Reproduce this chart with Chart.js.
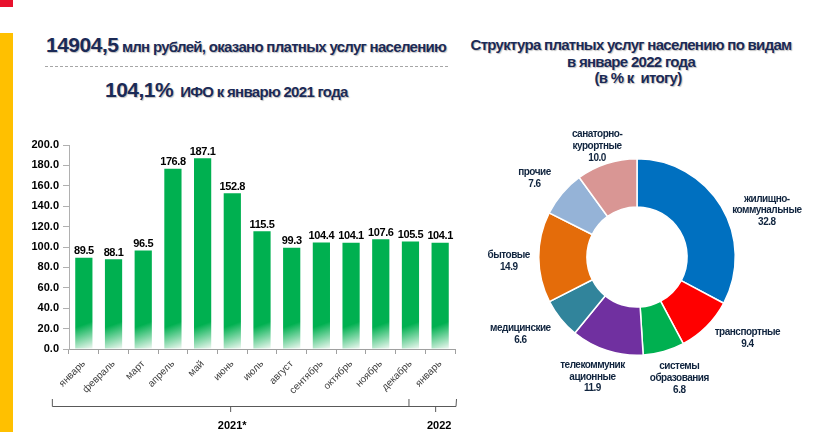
<!DOCTYPE html>
<html><head><meta charset="utf-8">
<script src="https://cdn.jsdelivr.net/npm/chart.js@4"></script>
<style>
html,body{margin:0;padding:0;background:#fff;}
body{width:832px;height:432px;position:relative;overflow:hidden;font-family:"Liberation Sans",Arial,sans-serif;}
.abs{position:absolute;}
#red{left:0;top:0;width:13px;height:7px;background:#E8112D;}
#yellow{left:0;top:33px;width:13px;height:399px;background:#FFC000;}
.hd{color:#1B2A56;font-weight:bold;white-space:nowrap;text-shadow:1px 1px 1px rgba(0,0,0,0.25);}
.big{font-size:21px;letter-spacing:-0.5px;}
.small{font-size:15px;letter-spacing:-0.7px;}
#h1{left:46px;top:34px;line-height:21px;}
#dash{left:45px;top:66px;width:403px;height:0;border-top:1px dashed #A6A6A6;}
#h2{left:105px;top:79px;line-height:21px;}
#h3{left:470px;top:37px;width:322px;text-align:center;font-size:15px;line-height:16.5px;letter-spacing:-0.7px;}
#barWrap{left:0;top:125px;width:470px;height:307px;}
#pieWrap{left:437px;top:107px;width:400px;height:300px;}
</style></head>
<body>
<div id="red" class="abs"></div>
<div id="yellow" class="abs"></div>
<div id="h1" class="abs hd"><span class="big">14904,5</span><span class="small"> млн рублей, оказано платных услуг населению</span></div>
<div id="dash" class="abs"></div>
<div id="h2" class="abs hd"><span class="big">104,1%</span><span class="small">&nbsp; ИФО к январю 2021 года</span></div>
<div id="h3" class="abs hd">Структура платных услуг населению по видам<br>в январе 2022 года<br>&nbsp;&nbsp;&nbsp;&nbsp;(в % к&nbsp; итогу)</div>
<div id="barWrap" class="abs"><canvas id="bar" width="470" height="307"></canvas></div>
<div id="pieWrap" class="abs"><canvas id="pie" width="400" height="300"></canvas></div>
<script>
// ---- data ----
const months = ['январь','февраль','март','апрель','май','июнь','июль','август','сентябрь','октябрь','ноябрь','декабрь','январь'];
const ifoValues = [89.5, 88.1, 96.5, 176.8, 187.1, 152.8, 115.5, 99.3, 104.4, 104.1, 107.6, 105.5, 104.1];
const yearLabels = ['2021*', '2022'];
const yMin = 0, yMax = 200, yStep = 20;

const serviceTypes = [['жилищно-','коммунальные'],['транспортные'],['системы','образования'],['телекоммуник','ационные'],['медицинские'],['бытовые'],['прочие'],['санаторно-','курортные']];
const serviceShares = [32.8, 9.4, 6.8, 11.9, 6.6, 14.9, 7.6, 10.0];

// ---- styles ----
const sliceColors = ['#0070C0','#FF0000','#00B050','#7030A0','#31849B','#E46C0A','#95B3D7','#D99694'];
const labelNudge = [[19,20],[19,-10],[7,-3],[-5,-3],[-16,-4],[1,4],[-4,5],[0,12]];

Chart.defaults.font.family = '"Liberation Sans", Arial, sans-serif';
Chart.defaults.animation = false;

const barGradient = {
  id: 'barGradient',
  beforeDatasetsDraw(chart) {
    const ctx = chart.ctx;
    chart.getDatasetMeta(0).data.forEach(el => {
      const l = el.x - el.width / 2, r = el.x + el.width / 2;
      const g = ctx.createLinearGradient(l, el.base - 48, r, el.base);
      g.addColorStop(0, '#00B050');
      g.addColorStop(0.5, '#00B050');
      g.addColorStop(1, '#EEF8F1');
      el.options.backgroundColor = g;
    });
  }
};

const barValues = {
  id: 'barValues',
  afterDatasetsDraw(chart) {
    const ctx = chart.ctx;
    ctx.save();
    ctx.font = 'bold 11px "Liberation Sans", Arial, sans-serif';
    ctx.letterSpacing = '-0.4px';
    ctx.fillStyle = '#000';
    ctx.textAlign = 'center';
    ctx.textBaseline = 'bottom';
    const ds = chart.data.datasets[0].data;
    chart.getDatasetMeta(0).data.forEach((el, i) => {
      ctx.fillText(ds[i].toFixed(1), el.x, el.y - 1);
    });
    ctx.restore();
  }
};

const yearBrackets = {
  id: 'yearBrackets',
  afterDraw(chart) {
    const ctx = chart.ctx, xs = chart.scales.x, b = chart.chartArea.bottom;
    const left = xs.getPixelForValue(0) - 32;
    const div = xs.getPixelForValue(months.length - 2) - 2;
    const right = chart.chartArea.right + 1;
    const mid1 = (left + div) / 2;
    const mid2 = xs.getPixelForValue(months.length - 1) - 5;
    const yl = b + 57;
    ctx.save();
    ctx.strokeStyle = '#595959';
    ctx.lineWidth = 1;
    ctx.beginPath();
    ctx.moveTo(left + 0.5, yl - 7); ctx.lineTo(left + 0.5, yl + 0.5); ctx.lineTo(right, yl + 0.5); ctx.lineTo(right + 0.5, yl - 7);
    ctx.moveTo(div + 0.5, yl - 7); ctx.lineTo(div + 0.5, yl);
    ctx.moveTo(mid1 + 0.5, yl); ctx.lineTo(mid1 + 0.5, yl + 6);
    ctx.moveTo(mid2 + 0.5, yl); ctx.lineTo(mid2 + 0.5, yl + 6);
    ctx.stroke();
    ctx.font = 'bold 11px "Liberation Sans", Arial, sans-serif';
    ctx.fillStyle = '#000';
    ctx.textAlign = 'center';
    ctx.textBaseline = 'middle';
    ctx.fillText(yearLabels[0], mid1 + 2, b + 77);
    ctx.fillText(yearLabels[1], mid2 + 4, b + 77);
    ctx.restore();
  }
};

new Chart(document.getElementById('bar'), {
  type: 'bar',
  data: { labels: months, datasets: [{ data: ifoValues, backgroundColor: () => '#00B050', barPercentage: 0.58, categoryPercentage: 1.0 }] },
  options: {
    responsive: false,
    layout: { padding: { left: 0, right: 15, top: 20, bottom: 38 } },
    plugins: { legend: { display: false }, tooltip: { enabled: false } },
    scales: {
      x: {
        afterFit(s) { s.height = 45; },
        grid: { drawOnChartArea: false, offset: true, tickLength: 5, color: '#A0A0A0' },
        border: { color: '#A0A0A0' },
        ticks: { autoSkip: false, minRotation: 45, maxRotation: 45, color: '#404040', font: { size: 10 }, padding: 4 }
      },
      y: {
        min: yMin, max: yMax,
        afterFit(s) { s.width = 69; },
        grid: { drawOnChartArea: false, tickLength: 6, color: '#B0B0B0' },
        border: { color: '#B0B0B0' },
        ticks: { stepSize: yStep, color: '#000', font: { size: 11, weight: 'bold' }, padding: 4, callback: v => Number(v).toFixed(1) }
      }
    }
  },
  plugins: [barGradient, barValues, yearBrackets]
});

const pieLabels = {
  id: 'pieLabels',
  afterDraw(chart) {
    const ctx = chart.ctx;
    ctx.save();
    ctx.font = 'bold 10px "Liberation Sans", Arial, sans-serif';
    ctx.letterSpacing = '-0.5px';
    ctx.fillStyle = '#10243E';
    ctx.textAlign = 'center';
    ctx.textBaseline = 'middle';
    const vals = chart.data.datasets[0].data;
    chart.getDatasetMeta(0).data.forEach((el, i) => {
      const a = (el.startAngle + el.endAngle) / 2;
      const r = el.outerRadius + 31;
      const cx = el.x + Math.cos(a) * r + labelNudge[i][0];
      const cy = el.y + Math.sin(a) * r + labelNudge[i][1];
      const lines = serviceTypes[i].concat([vals[i].toFixed(1)]);
      const lh = 11.7;
      const y0 = cy - (lines.length - 1) * lh / 2;
      lines.forEach((t, k) => ctx.fillText(t, cx, y0 + k * lh));
    });
    ctx.restore();
  }
};

new Chart(document.getElementById('pie'), {
  type: 'doughnut',
  data: { labels: serviceTypes.map(s => s.join('')), datasets: [{ data: serviceShares, backgroundColor: sliceColors, borderColor: '#fff', borderWidth: 1.5 }] },
  options: {
    responsive: false,
    cutout: '51%',
    layout: { padding: { left: 101, right: 101, top: 51, bottom: 51 } },
    plugins: { legend: { display: false }, tooltip: { enabled: false } }
  },
  plugins: [pieLabels]
});
</script>
</body></html>
